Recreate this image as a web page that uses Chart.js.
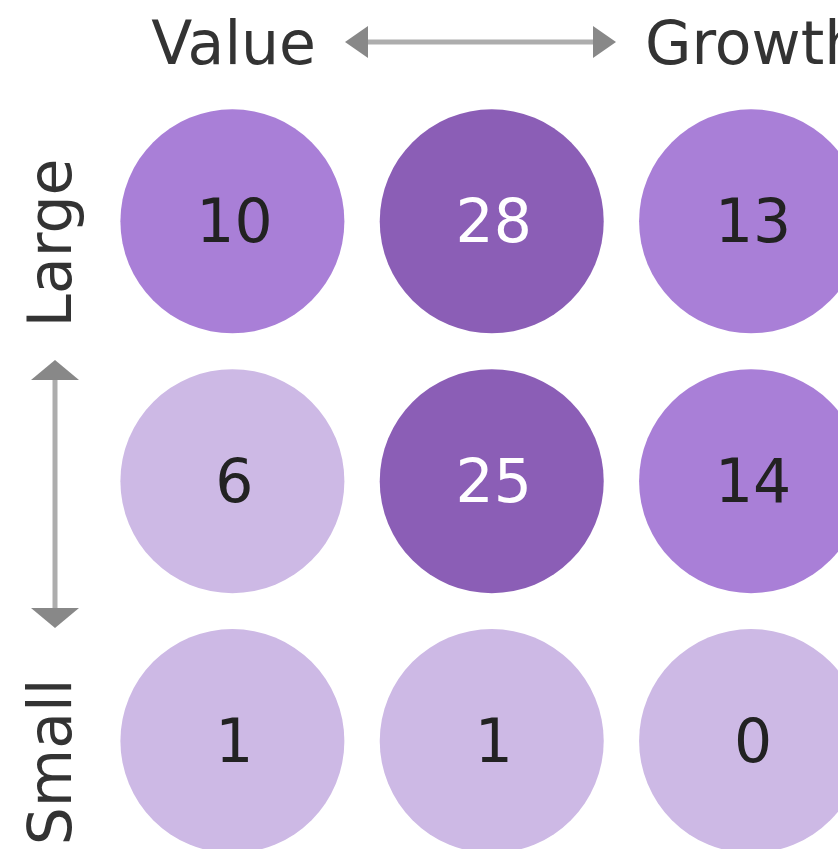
<!DOCTYPE html>
<html>
<head>
<meta charset="utf-8">
<script src="https://cdn.jsdelivr.net/npm/chart.js@4.4.1/dist/chart.umd.min.js"></script>
<style>
  html, body { margin: 0; padding: 0; background: #fff; overflow: hidden; }
  #wrap { width: 838px; height: 849px; position: relative; }
</style>
</head>
<body>
<div id="wrap"><canvas id="styleBox"></canvas></div>
<script>
// style box: columns = style, rows = size
const styles = ['Value', 'Blend', 'Growth'];
const sizes = ['Large', 'Mid', 'Small'];
const largeCounts = [10, 28, 13];
const midCounts = [6, 25, 14];
const smallCounts = [1, 1, 0];

const rows = [largeCounts, midCounts, smallCounts];

var colorFor = function (v) {
  if (v >= 20) return '#8b5eb6';
  if (v >= 10) return '#a97fd7';
  return '#cdb9e5';
};

const points = [];
rows.forEach((row, r) => {
  row.forEach((v, c) => {
    points.push({ x: c, y: sizes.length - 1 - r, r: 112, v: v });
  });
});

const FONT = '"DejaVu Sans", Verdana, sans-serif';

const bubbleLabels = {
  id: 'bubbleLabels',
  afterDatasetsDraw(chart) {
    const ctx = chart.ctx;
    const meta = chart.getDatasetMeta(0);
    ctx.save();
    ctx.font = '60px ' + FONT;
    ctx.textAlign = 'center';
    ctx.textBaseline = 'middle';
    meta.data.forEach((el, i) => {
      const v = points[i].v;
      ctx.fillStyle = v >= 20 ? '#ffffff' : '#222222';
      ctx.fillText(String(v), el.x + 2, el.y + 5);
    });
    ctx.restore();
  }
};

// axis captions with double arrows
const boxCaptions = {
  id: 'boxCaptions',
  afterDraw(chart) {
    const ctx = chart.ctx;
    ctx.save();
    ctx.fillStyle = '#333333';
    ctx.font = '60px ' + FONT;
    ctx.textBaseline = 'alphabetic';
    ctx.textAlign = 'right';
    ctx.fillText(styles[0], 316, 64);
    ctx.textAlign = 'left';
    ctx.fillText(styles[2], 645, 64);

    // horizontal arrow
    ctx.strokeStyle = '#adadad';
    ctx.lineWidth = 5;
    ctx.beginPath();
    ctx.moveTo(360, 42);
    ctx.lineTo(600, 42);
    ctx.stroke();
    ctx.fillStyle = '#888888';
    ctx.beginPath();
    ctx.moveTo(345, 42); ctx.lineTo(368, 26); ctx.lineTo(368, 58); ctx.closePath(); ctx.fill();
    ctx.beginPath();
    ctx.moveTo(616, 42); ctx.lineTo(593, 26); ctx.lineTo(593, 58); ctx.closePath(); ctx.fill();

    // vertical captions
    ctx.fillStyle = '#333333';
    ctx.textAlign = 'center';
    ctx.textBaseline = 'middle';
    [[sizes[0], 243], [sizes[2], 762]].forEach(([t, y]) => {
      ctx.save();
      ctx.translate(55, y);
      ctx.rotate(-Math.PI / 2);
      ctx.fillText(t, 0, 0);
      ctx.restore();
    });

    // vertical arrow
    ctx.strokeStyle = '#adadad';
    ctx.beginPath();
    ctx.moveTo(55, 375);
    ctx.lineTo(55, 612);
    ctx.stroke();
    ctx.fillStyle = '#888888';
    ctx.beginPath();
    ctx.moveTo(55, 360); ctx.lineTo(31, 380); ctx.lineTo(79, 380); ctx.closePath(); ctx.fill();
    ctx.beginPath();
    ctx.moveTo(55, 628); ctx.lineTo(31, 608); ctx.lineTo(79, 608); ctx.closePath(); ctx.fill();
    ctx.restore();
  }
};

new Chart(document.getElementById('styleBox'), {
  type: 'bubble',
  data: {
    datasets: [{
      data: points,
      backgroundColor: points.map(p => colorFor(p.v)),
      borderWidth: 0,
      hoverRadius: 0,
      clip: false
    }]
  },
  options: {
    responsive: true,
    maintainAspectRatio: false,
    animation: false,
    layout: { padding: 0 },
    plugins: {
      legend: { display: false },
      tooltip: { enabled: false }
    },
    scales: {
      x: { type: 'linear', display: false, min: -0.4642, max: 1.9033 },
      y: { type: 'linear', display: false, min: 0.0154, max: 2.4208 }
    }
  },
  plugins: [bubbleLabels, boxCaptions]
});
</script>
</body>
</html>
